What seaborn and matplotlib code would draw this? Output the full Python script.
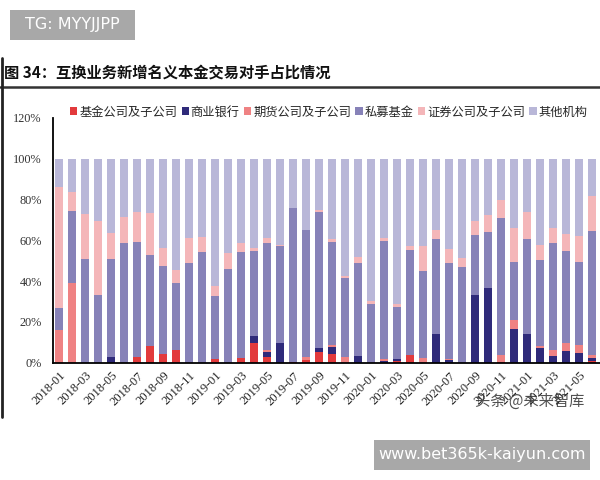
import pandas as pd
import numpy as np
import matplotlib.pyplot as plt
import seaborn as sns
from matplotlib.patches import Patch, Rectangle
from matplotlib.lines import Line2D

# ---------------- data (%) ----------------
months = pd.date_range('2018-01', '2021-06', freq='MS').strftime('%Y-%m').tolist()

fund = [0, 0, 0, 0, 0, 0, 2.6, 8.3, 4.4, 6.2,
        0, 0, 1.6, 0, 2.1, 9.8, 2.6, 0, 0.5, 1.3,
        5.4, 4.2, 0, 0, 0, 0, 1.0, 3.9, 0, 0,
        0, 0, 0, 0, 0.5, 0, 0, 0, 0, 0, 0, 1.0]
bank = [0, 0, 0, 0, 3.0, 0, 0, 0, 0, 0,
        0, 0, 0, 0, 0, 3.4, 2.8, 9.5, 0, 0,
        1.6, 3.6, 0, 3.3, 0, 1.0, 1.0, 0, 0, 13.9,
        1.3, 0, 33.3, 36.7, 0, 16.5, 13.9, 7.3, 3.3, 5.5, 4.6, 1.3]
futures = [16.0, 39.0, 0, 0, 0, 0, 0, 0, 0, 0,
           0, 0, 0, 0, 0, 0, 0.8, 0, 0, 1.6,
           0, 0.8, 2.6, 0, 0, 1.0, 0, 0, 2.1, 0,
           0.7, 0, 0, 0, 3.2, 4.4, 0, 0.9, 2.9, 4.0, 4.0, 1.5]
private = [10.6, 35.4, 51.0, 33.1, 48.0, 58.6, 56.4, 44.6, 43.2, 33.0,
           48.6, 54.2, 31.2, 46.0, 51.9, 41.4, 52.4, 47.6, 75.2, 62.1,
           67.0, 50.6, 38.8, 45.3, 28.7, 57.4, 25.1, 51.1, 42.6, 46.6,
           46.9, 46.7, 29.3, 27.2, 67.4, 28.4, 46.9, 42.0, 52.4, 45.3, 40.7, 60.8]
securities = [59.6, 9.1, 21.8, 36.2, 12.5, 12.7, 14.7, 20.5, 8.7, 6.2,
              12.6, 7.5, 5.0, 7.5, 4.4, 1.8, 2.6, 0.6, 0, 0,
              0.9, 1.2, 1.0, 3.3, 1.6, 1.9, 1.6, 2.1, 12.4, 4.3,
              6.7, 4.4, 6.6, 8.4, 8.5, 16.6, 12.9, 7.4, 7.3, 8.2, 13.0, 17.0]
others = [13.8, 16.5, 27.2, 30.7, 36.5, 28.7, 26.3, 26.6, 43.7, 54.6,
          38.8, 38.3, 62.2, 46.5, 41.6, 43.6, 38.8, 42.3, 24.3, 35.0,
          25.1, 39.6, 57.6, 48.1, 69.7, 38.7, 71.3, 42.9, 42.9, 35.2,
          44.4, 48.9, 30.8, 27.7, 20.4, 34.1, 26.3, 42.4, 34.1, 37.0, 37.7, 18.4]

series_names = ['基金公司及子公司', '商业银行', '期货公司及子公司', '私募基金', '证券公司及子公司', '其他机构']
colors = ['#e23a3c', '#2f2a7a', '#ef8283', '#8782b8', '#f4b6b9', '#b9b7d8']

df = pd.DataFrame({'month': months})
for name, vals in zip(series_names, [fund, bank, futures, private, securities, others]):
    df[name] = vals

# ---------------- style ----------------
sns.set_style('white')
plt.rcParams['font.family'] = ['Noto Sans CJK SC', 'DejaVu Sans']

fig = plt.figure(figsize=(6, 4.8), dpi=100)
ax = fig.add_axes([53 / 600, 1 - 362.7 / 480, 547 / 600, 245 / 480])

# stacked bars: draw cumulative totals from the top layer down
cum = df[series_names].cumsum(axis=1)
for name, col in reversed(list(zip(series_names, colors))):
    sns.barplot(x=df['month'], y=cum[name], color=col, saturation=1,
                width=0.6, errorbar=None, ax=ax, linewidth=0)

ax.set_ylim(0, 120)
ax.set_xlim(-0.48, 41.6)
ax.set_yticks(range(0, 121, 20))
ax.set_yticklabels([f'{v}%' for v in range(0, 121, 20)],
                   family='Liberation Serif', fontsize=8.8, color='#333333')
ax.set_xticks(range(0, len(months), 2))
ax.set_xticklabels(months[::2], rotation=45, ha='right', rotation_mode='anchor',
                   family='Liberation Serif', fontsize=9, color='#222222')
ax.set_xticks(np.arange(1.5, len(months), 2), minor=True)
ax.tick_params(axis='x', which='major', length=0, pad=5)
ax.tick_params(axis='x', which='minor', direction='in', length=3, width=1, color='black')
ax.tick_params(axis='y', direction='in', length=3, width=1, color='black', pad=8)
ax.set_xlabel('')
ax.set_ylabel('')
sns.despine(ax=ax)
for s in ['left', 'bottom']:
    ax.spines[s].set_color('black')
    ax.spines[s].set_linewidth(1.3)

handles = [Patch(facecolor=c, edgecolor='none') for c in colors]
fig.legend(handles, series_names, loc='center', bbox_to_anchor=(0.548, 1 - 112 / 480),
           ncol=6, frameon=False, fontsize=8.8, handlelength=0.6, handleheight=0.6,
           handletextpad=0.15, columnspacing=0.35, borderaxespad=0)

# title and frame lines
fig.text(0.006, 1 - 73 / 480, '图 34：互换业务新增名义本金交易对手占比情况',
         fontsize=11, fontweight='bold', va='center', color='#111111')
fig.add_artist(Line2D([0, 1], [1 - 87 / 480] * 2, color='#333333', lw=1.8))
fig.add_artist(Line2D([2 / 600] * 2, [1 - 58 / 480, 1 - 417 / 480], color='#222222', lw=2))

# watermarks
fig.add_artist(Rectangle((10 / 600, 1 - 40 / 480), 125 / 600, 30 / 480,
                         facecolor='#a8a8a8', edgecolor='none'))
fig.text(72 / 600, 1 - 25 / 480, 'TG: MYYJJPP', color='white', fontsize=11.5,
         ha='center', va='center', family='DejaVu Sans')
fig.add_artist(Rectangle((374 / 600, 1 - 470 / 480), 216 / 600, 30 / 480,
                         facecolor='#a8a8a8', edgecolor='none'))
fig.text(482 / 600, 1 - 455 / 480, 'www.bet365k-kaiyun.com', color='white', fontsize=11.5,
         ha='center', va='center', family='DejaVu Sans')
fig.text(530 / 600, 1 - 401 / 480, '头条 @未来智库', color='#333333', fontsize=11,
         ha='center', va='center', alpha=0.85)

fig.savefig('out.png', dpi=100, facecolor='white')
